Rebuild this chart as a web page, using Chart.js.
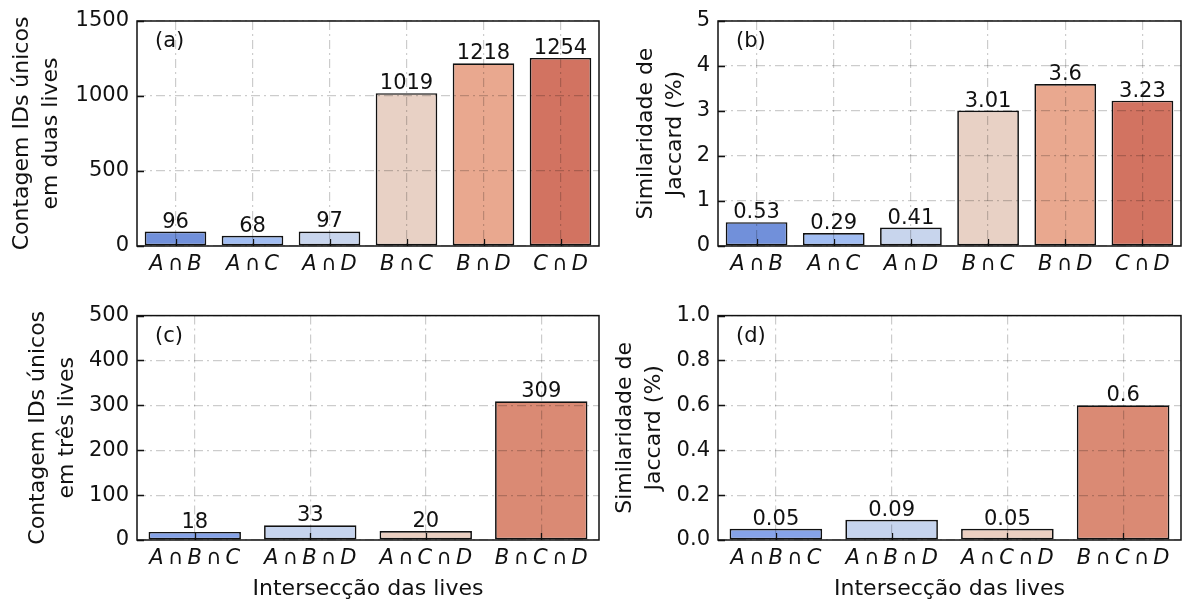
<!DOCTYPE html>
<html>
<head>
<meta charset="utf-8">
<script src="https://cdn.jsdelivr.net/npm/chart.js@4.4.1/dist/chart.umd.min.js"></script>
<style>
    html, body { margin: 0; padding: 0; background: #fff; }
    #wrap { position: relative; width: 1183px; height: 602px; overflow: hidden; }
    canvas { position: absolute; }
</style>
</head>
<body>
<div id="wrap">
    <canvas id="chartA" width="602" height="290" style="left:0px;top:0px;width:602px;height:290px"></canvas>
    <canvas id="chartB" width="583" height="290" style="left:600px;top:0px;width:583px;height:290px"></canvas>
    <canvas id="chartC" width="602" height="307" style="left:0px;top:295px;width:602px;height:307px"></canvas>
    <canvas id="chartD" width="583" height="307" style="left:600px;top:295px;width:583px;height:307px"></canvas>
</div>
<script>
// pares de lives
let pairLabels = ["A\u2009∩\u2009B", "A\u2009∩\u2009C", "A\u2009∩\u2009D", "B\u2009∩\u2009C", "B\u2009∩\u2009D", "C\u2009∩\u2009D"];
let pairCounts = [96, 68, 97, 1019, 1218, 1254];
let pairJaccard = [0.53, 0.29, 0.41, 3.01, 3.6, 3.23];
let pairColors = ["#7190da", "#a1bdf2", "#c8d5ed", "#e8d1c5", "#e9a88f", "#d27361"];

// trios de lives
let tripleLabels = ["A\u2009∩\u2009B\u2009∩\u2009C", "A\u2009∩\u2009B\u2009∩\u2009D", "A\u2009∩\u2009C\u2009∩\u2009D", "B\u2009∩\u2009C\u2009∩\u2009D"];
let tripleCounts = [18, 33, 20, 309];
let tripleJaccard = [0.05, 0.09, 0.05, 0.6];
let tripleColors = ["#86a3e8", "#c6d4ee", "#ebcfc1", "#da8a74"];

let countTicksTop = [0, 500, 1000, 1500];
let jaccardTicksTop = [0, 1, 2, 3, 4, 5];
let countTicksBottom = [0, 100, 200, 300, 400, 500];
let jaccardTicksBottom = [0, 0.2, 0.4, 0.6, 0.8, 1.0];

const FONT = "'DejaVu Sans', 'Liberation Sans', sans-serif";
const INK = "#111111";
const GRID = "rgba(0, 0, 0, 0.2)";

Chart.defaults.font.family = FONT;
Chart.defaults.color = INK;

// moldura, ticks para dentro, rótulos dos valores e letra do painel
const panelDecor = {
    id: "panelDecor",
    afterDraw(chart) {
        let ctx = chart.ctx;
        let area = chart.chartArea;
        let xs = chart.scales.x;
        let ys = chart.scales.y;
        let opts = chart.options.plugins.panelDecor;

        ctx.save();
        ctx.strokeStyle = INK;
        ctx.lineWidth = 1.3;
        ctx.beginPath();
        xs.ticks.forEach((t, i) => {
            let px = Math.round(xs.getPixelForTick(i)) + 0.5;
            ctx.moveTo(px, area.bottom);
            ctx.lineTo(px, area.bottom - 7);
        });
        ys.ticks.forEach((t, i) => {
            let py = Math.round(ys.getPixelForTick(i)) + 0.5;
            ctx.moveTo(area.left, py);
            ctx.lineTo(area.left + 7, py);
        });
        ctx.stroke();

        ctx.lineWidth = 1.5;
        ctx.strokeRect(area.left, area.top, area.right - area.left, area.bottom - area.top);

        // valores em cima das barras
        let meta = chart.getDatasetMeta(0);
        let data = chart.data.datasets[0].data;
        ctx.fillStyle = INK;
        ctx.font = "21px " + FONT;
        ctx.textAlign = "center";
        ctx.textBaseline = "alphabetic";
        meta.data.forEach((bar, i) => {
            ctx.fillText(String(data[i]), bar.x, bar.y - 4);
        });

        ctx.textAlign = "left";
        ctx.textBaseline = "middle";
        ctx.fillText(opts.letter, area.left + 18, area.top + 21);
        ctx.restore();
    }
};

document.addEventListener("DOMContentLoaded", () => {
    buildPanel("chartA", pairLabels, pairCounts, pairColors, {
        letter: "(a)", ticks: countTicksTop, yTitle: ["Contagem IDs únicos", "em duas lives"],
        yWidth: 137, titlePad: 8, top: 21, right: 3, xHeight: 44, xTitle: null, digits: 0,
    });
    buildPanel("chartB", pairLabels, pairJaccard, pairColors, {
        letter: "(b)", ticks: jaccardTicksTop, yTitle: ["Similaridade de", "Jaccard (%)"],
        yWidth: 118, titlePad: 32, top: 21, right: 2, xHeight: 44, xTitle: null, digits: 0,
    });
    buildPanel("chartC", tripleLabels, tripleCounts, tripleColors, {
        letter: "(c)", ticks: countTicksBottom, yTitle: ["Contagem IDs únicos", "em três lives"],
        yWidth: 137, titlePad: 24, top: 19, right: 3, xHeight: 62, xTitle: "Intersecção das lives", digits: 0,
    });
    buildPanel("chartD", tripleLabels, tripleJaccard, tripleColors, {
        letter: "(d)", ticks: jaccardTicksBottom, yTitle: ["Similaridade de", "Jaccard (%)"],
        yWidth: 118, titlePad: 11, top: 19, right: 2, xHeight: 62, xTitle: "Intersecção das lives", digits: 1,
    });
});

function buildPanel(canvasId, labels, values, colors, cfg) {
    let ctx = document.getElementById(canvasId);
    let tickMin = cfg.ticks[0];
    let tickMax = cfg.ticks[cfg.ticks.length - 1];

    new Chart(ctx, {
        type: "bar",
        data: {
            labels: labels,
            datasets: [
                {
                    data: values,
                    backgroundColor: colors,
                    borderColor: INK,
                    borderWidth: 1.7,
                    borderSkipped: false,
                    barPercentage: 0.8,
                    categoryPercentage: 1,
                }
            ],
        },
        options: {
            responsive: false,
            devicePixelRatio: 1,
            animation: false,
            layout: { padding: { left: 0, top: cfg.top, right: cfg.right, bottom: 0 } },
            plugins: {
                legend: { display: false },
                tooltip: { enabled: false },
                panelDecor: { letter: cfg.letter },
            },
            scales: {
                x: {
                    afterFit: (s) => { s.height = cfg.xHeight; },
                    grid: { offset: false, color: GRID, lineWidth: 1.2, drawTicks: false, z: 1 },
                    border: { display: false, dash: [9, 4, 2, 4] },
                    ticks: { padding: 6, font: { size: 21, style: "italic" }, color: INK, maxRotation: 0, autoSkip: false },
                    title: {
                        display: !!cfg.xTitle,
                        text: cfg.xTitle || "",
                        font: { size: 22, lineHeight: 1.2 },
                        color: INK,
                        padding: { top: 0, bottom: 0 },
                    },
                },
                y: {
                    min: tickMin,
                    max: tickMax,
                    afterFit: (s) => { s.width = cfg.yWidth; },
                    afterBuildTicks: (s) => { s.ticks = cfg.ticks.map(v => ({ value: v })); },
                    grid: { color: GRID, lineWidth: 1.2, drawTicks: false, z: 1 },
                    border: { display: false, dash: [9, 4, 2, 4] },
                    ticks: {
                        padding: 8,
                        font: { size: 21 },
                        color: INK,
                        callback: (v) => Number(v).toFixed(cfg.digits),
                    },
                    title: {
                        display: true,
                        text: cfg.yTitle,
                        font: { size: 22, lineHeight: 1.3 },
                        color: INK,
                        padding: { top: cfg.titlePad, bottom: 0 },
                    },
                },
            },
        },
        plugins: [panelDecor],
    });
}
</script>
</body>
</html>
